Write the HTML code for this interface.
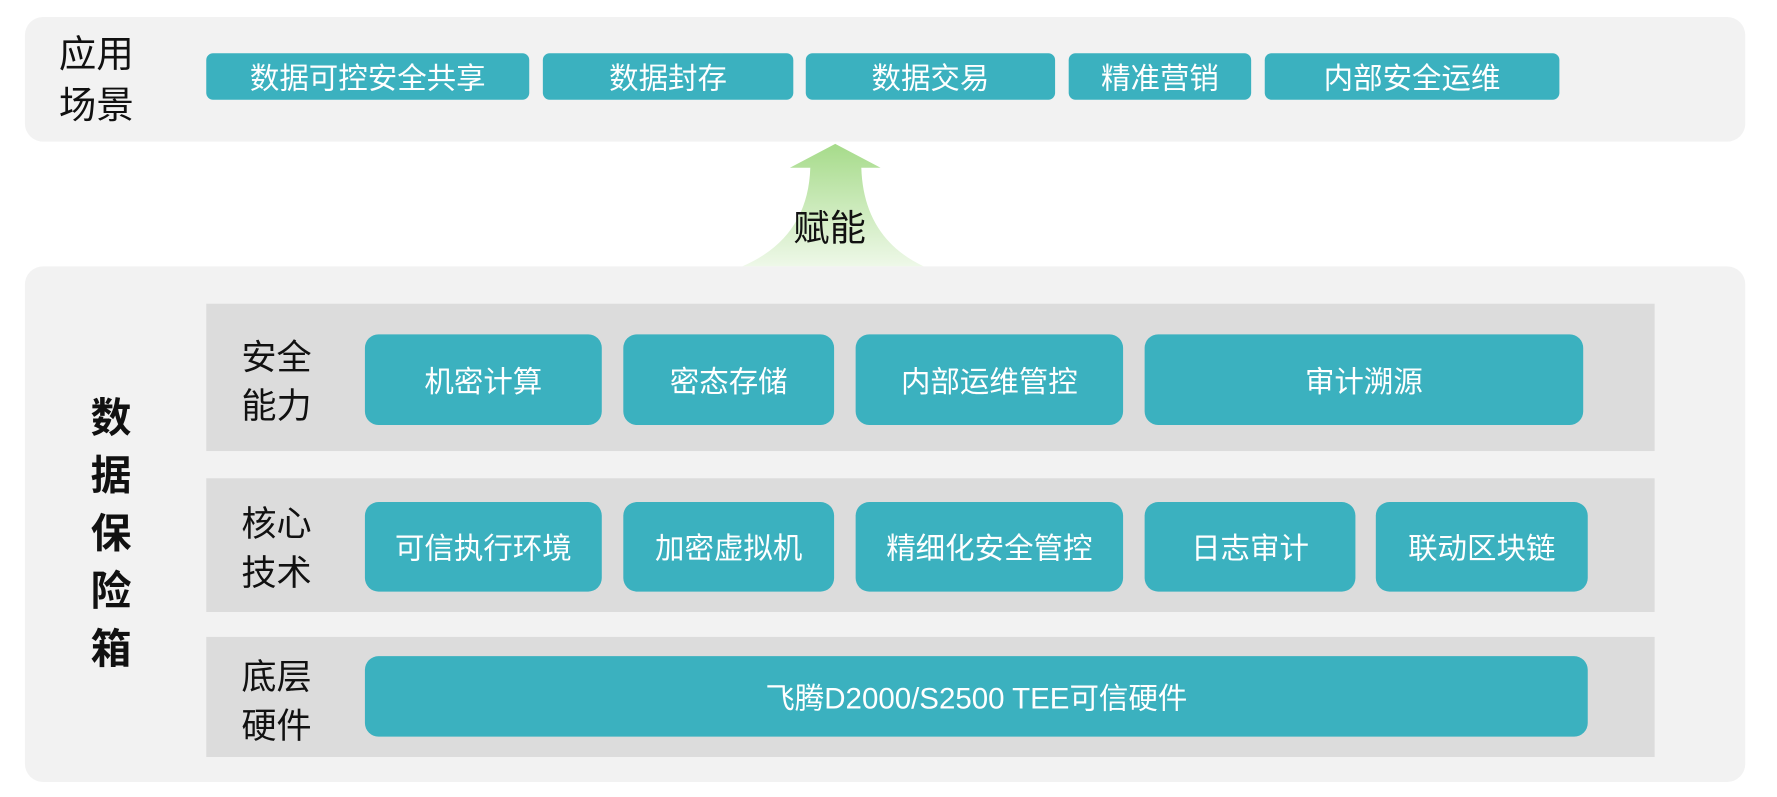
<!DOCTYPE html>
<html><head><meta charset="utf-8"><style>
html,body{margin:0;padding:0;width:1777px;height:796px;overflow:hidden;background:#fff;}
#s{position:absolute;left:0;top:0;width:1568px;height:703px;transform:scale(1.13329);transform-origin:0 0;font-family:"Liberation Sans","Noto Sans CJK SC",sans-serif;}
.a{position:absolute;}
.p{background:#f2f2f2;border-radius:16px;}
.r{background:#dcdcdc;}
.b{position:absolute;background:#3bb1bf;color:#fff;border-radius:6px;display:flex;align-items:center;justify-content:center;font-size:26px;}
.b2{border-radius:12px;}
.l{position:absolute;font-size:31px;line-height:43px;color:#111;}
</style></head><body><div id="s">
<div class="a p" style="left:22px;top:15px;width:1518px;height:110px"></div>
<div class="l" style="left:52px;top:25px;font-size:33px;line-height:45px">应用<br>场景</div>
<div class="b" style="left:182px;top:47px;width:285px;height:41px">数据可控安全共享</div>
<div class="b" style="left:479px;top:47px;width:221px;height:41px">数据封存</div>
<div class="b" style="left:711px;top:47px;width:220px;height:41px">数据交易</div>
<div class="b" style="left:943px;top:47px;width:161px;height:41px">精准营销</div>
<div class="b" style="left:1116px;top:47px;width:260px;height:41px">内部安全运维</div>
<svg class="a" style="left:640px;top:120px" width="200" height="120"><defs><linearGradient id="g" x1="0" y1="0" x2="0" y2="1"><stop offset="0" stop-color="#a6db8a"/><stop offset="1" stop-color="#eef8e8"/></linearGradient></defs>
<path d="M97 7 L137 28 L120 28 Q122 90 175 115 L15 115 Q73 90 75 28 L57 28 Z" fill="url(#g)"/></svg>
<div class="l" style="left:700px;top:180px;font-size:32px">赋能</div>
<div class="a p" style="left:22px;top:235px;width:1518px;height:455px"></div>
<div class="l" style="left:80px;top:343px;font-size:36px;line-height:51px;font-weight:bold">数<br>据<br>保<br>险<br>箱</div>
<div class="a r" style="left:182px;top:268px;width:1278px;height:130px"></div>
<div class="a r" style="left:182px;top:422px;width:1278px;height:118px"></div>
<div class="a r" style="left:182px;top:562px;width:1278px;height:106px"></div>
<div class="l" style="left:213px;top:294px">安全<br>能力</div>
<div class="l" style="left:213px;top:441px">核心<br>技术</div>
<div class="l" style="left:213px;top:576px">底层<br>硬件</div>
<div class="b b2" style="left:322px;top:295px;width:209px;height:80px">机密计算</div>
<div class="b b2" style="left:550px;top:295px;width:186px;height:80px">密态存储</div>
<div class="b b2" style="left:755px;top:295px;width:236px;height:80px">内部运维管控</div>
<div class="b b2" style="left:1010px;top:295px;width:387px;height:80px">审计溯源</div>
<div class="b b2" style="left:322px;top:443px;width:209px;height:79px">可信执行环境</div>
<div class="b b2" style="left:550px;top:443px;width:186px;height:79px">加密虚拟机</div>
<div class="b b2" style="left:755px;top:443px;width:236px;height:79px">精细化安全管控</div>
<div class="b b2" style="left:1010px;top:443px;width:186px;height:79px">日志审计</div>
<div class="b b2" style="left:1214px;top:443px;width:187px;height:79px">联动区块链</div>
<div class="b b2" style="left:322px;top:579px;width:1079px;height:71px">飞腾D2000/S2500 TEE可信硬件</div>
</div></body></html>
